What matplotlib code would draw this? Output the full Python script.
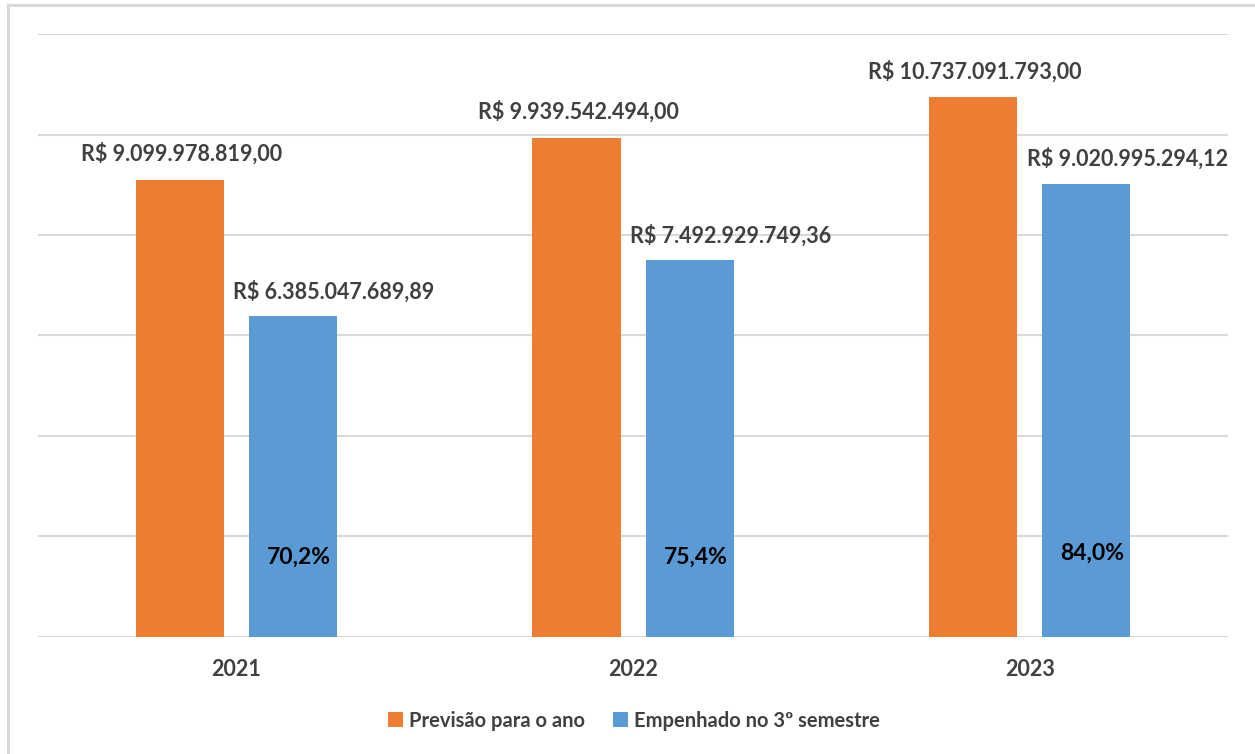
import matplotlib
matplotlib.use("Agg")
import matplotlib.pyplot as plt
from matplotlib.patches import Patch
from matplotlib.lines import Line2D
import numpy as np

years = ["2021", "2022", "2023"]
previsao = [9099978819.00, 9939542494.00, 10737091793.00]
empenhado = [6385047689.89, 7492929749.36, 9020995294.12]
percentuais = ["70,2%", "75,4%", "84,0%"]
series_names = ["Previsão para o ano", "Empenhado no 3º semestre"]

ORANGE = "#ED7D31"
BLUE = "#5B9BD5"
TXT = "#404040"
GRID = "#D9D9D9"

plt.rcParams['font.family'] = ['Lato', 'DejaVu Sans']


def brl(v):
    s = f"{v:,.2f}".replace(",", "X").replace(".", ",").replace("X", ".")
    return "R$ " + s


fig = plt.figure(figsize=(12.55, 7.54), dpi=100)
ax = fig.add_axes([0.0303, 0.1552, 0.9482, 0.7997])

x = np.arange(len(years))
w = 0.222
off = 0.1425
ax.bar(x - off, previsao, w, color=ORANGE, zorder=3)
ax.bar(x + off, empenhado, w, color=BLUE, zorder=3)

ax.set_xlim(-0.5, 2.5)
ax.set_ylim(0, 12e9)
ax.set_yticks(np.arange(0, 12.1e9, 2e9))
ax.yaxis.grid(True, color=GRID, linewidth=1.5, zorder=0)
ax.tick_params(axis='y', left=False, labelleft=False)
ax.tick_params(axis='x', bottom=False, pad=12)
ax.set_xticks(x)
ax.set_xticklabels(years, fontsize=15.5, fontweight='bold', color=TXT)
for s in ax.spines.values():
    s.set_visible(False)

pxv = 12e9 / 603.0
for i in range(len(years)):
    ax.text(x[i] - off + 0.005, previsao[i] + 26 * pxv, brl(previsao[i]),
            ha='center', va='center', fontsize=15.5, fontweight='bold', color=TXT)
    ax.text(x[i] + off + 0.103, empenhado[i] + 25 * pxv, brl(empenhado[i]),
            ha='center', va='center', fontsize=15.5, fontweight='bold', color=TXT)
    ax.text(x[i] + off + 0.015, 80 * pxv + (4 * pxv if i == 2 else 0), percentuais[i],
            ha='center', va='center', fontsize=16.5, fontweight='bold', color='black')

handles = [Patch(facecolor=ORANGE), Patch(facecolor=BLUE)]
leg = fig.legend(handles, series_names, loc='center', bbox_to_anchor=(0.505, 0.044),
                 ncol=2, frameon=False, handlelength=0.75, handleheight=0.75,
                 handletextpad=0.3, columnspacing=1.4,
                 prop={'weight': 'bold', 'size': 14.5})
for t in leg.get_texts():
    t.set_color(TXT)

# chart area border (top and left visible)
fig.add_artist(Line2D([8 / 1255, 8 / 1255], [0, 1 - 5 / 754], transform=fig.transFigure,
                      color=GRID, linewidth=2.2))
fig.add_artist(Line2D([8 / 1255, 1], [1 - 5 / 754, 1 - 5 / 754], transform=fig.transFigure,
                      color=GRID, linewidth=2.2))

fig.savefig("out.png", dpi=100)
